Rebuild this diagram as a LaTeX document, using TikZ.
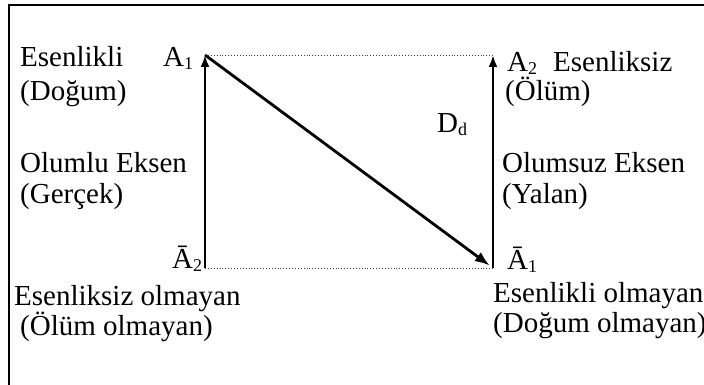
\documentclass[tikz,border=0pt]{standalone}
\usepackage{fontspec}
\setmainfont{Liberation Serif}
\usetikzlibrary{arrows.meta}
\newcommand{\sbs}[1]{\raisebox{-3pt}{\fontsize{18}{18}\selectfont #1}}
\begin{document}
\begin{tikzpicture}[x=1pt,y=-1pt,
  lbl/.style={anchor=base west,inner sep=0pt,font=\fontsize{29}{33}\selectfont},
  axis/.style={line width=2.8pt,-{Latex[length=12pt,width=9pt]}},
  diag/.style={line width=2.8pt,-{Latex[length=15pt,width=11pt]},shorten >=4pt},
  dots/.style={line width=0.9pt,dotted,black!75},
  frame/.style={line width=1.6pt}]
\useasboundingbox (0,0) rectangle (704,385);
\draw[frame] (9,420) -- (9,5) -- (720,5);
\coordinate (a1) at (205,55);
\coordinate (a2) at (493,55);
\coordinate (na2) at (205,268);
\coordinate (na1) at (493,268);
\draw[dots] (a1) -- (a2);
\draw[dots] (na2) -- (na1);
\draw[axis] (na2) -- (a1);
\draw[axis] (na1) -- (a2);
\draw[diag] (a1) -- (na1);
% left texts
\node[lbl] (t1) at (20,67) {Esenlikli};
\node[lbl] (t2) at (20,101) {(Doğum)};
\node[lbl] (t3) at (20,172) {Olumlu Eksen};
\node[lbl] (t4) at (20,203) {(Gerçek)};
\node[lbl] (la1) at (163,67) {A\sbs{1}};
\node[lbl] (lna2) at (172,268) {Ā\sbs{2}};
\node[lbl] (t5) at (14,305) {Esenliksiz olmayan};
\node[lbl] (t6) at (20,335) {(Ölüm olmayan)};
% right texts
\node[lbl] (la2) at (507,72) {A\sbs{2}};
\node[lbl] (t7) at (553,72) {Esenliksiz};
\node[lbl] (t8) at (505,101) {(Ölüm)};
\node[lbl] (dd) at (437,132) {D\sbs{d}};
\node[lbl] (t9) at (502,172) {Olumsuz Eksen};
\node[lbl] (t10) at (502,203) {(Yalan)};
\node[lbl] (lna1) at (507,269) {Ā\sbs{1}};
\node[lbl] (t11) at (493,302) {Esenlikli olmayan};
\node[lbl] (t12) at (493,332) {(Doğum olmayan)};
\end{tikzpicture}
\end{document}
